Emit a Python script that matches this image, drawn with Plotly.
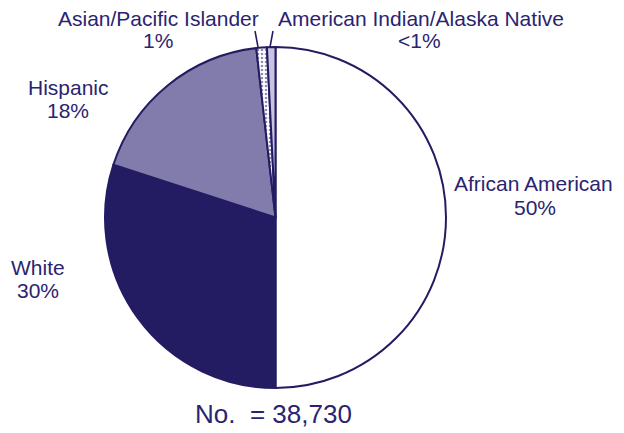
import plotly.graph_objects as go

# Data
categories = ["African American", "White", "Hispanic", "Asian/Pacific Islander", "American Indian/Alaska Native"]
values = [50.0, 30.0, 18.2, 1.0, 0.8]
pct_labels = ["50%", "30%", "18%", "1%", "<1%"]
total_label = "No.\u00a0 = 38,730"

NAVY = "#241c63"
TEXT = "#2a2470"
colors = ["#ffffff", NAVY, "#817cab", "#ffffff", "#c6c4e0"]
shapes_pat = ["", "", "", ".", ""]

# page body has an 8px margin; figure sized to fill the rest of the window
OFF = 8
W, H = 624 - OFF, 433 - OFF
cx, cy, r = 275.5 - OFF, 217.5 - OFF, 170.5

fig = go.Figure(go.Pie(
    labels=categories,
    values=values,
    sort=False,
    direction="clockwise",
    rotation=0,
    textinfo="none",
    hoverinfo="label+percent",
    marker=dict(colors=colors, line=dict(color=NAVY, width=2),
                pattern=dict(shape=shapes_pat, fgcolor=NAVY, bgcolor="#ffffff",
                             size=4, solidity=0.35, fillmode="overlay")),
    domain=dict(x=[(cx - r) / W, (cx + r) / W], y=[(H - cy - r) / H, (H - cy + r) / H]),
    showlegend=False,
))

def px(x):
    return (x - OFF) / W

def py(y):
    return 1 - (y - OFF) / H

# label positions (reference pixel centers): (name_x, name_y, pct_x, pct_y)
label_pos = [
    (533, 184, 535, 207),
    (38, 267, 38, 290),
    (68, 87, 68, 110),
    (158, 19, 158, 41),
    (421, 19, 419, 41),
]
FONT = "Liberation Sans, Arial"
annotations = []
for cat, pct, (nx, ny, qx, qy) in zip(categories, pct_labels, label_pos):
    annotations.append(dict(x=px(nx), y=py(ny), xref="paper", yref="paper", text=cat,
                            showarrow=False, xanchor="center", yanchor="middle",
                            font=dict(family=FONT, size=21, color=TEXT)))
    annotations.append(dict(x=px(qx), y=py(qy), xref="paper", yref="paper", text=pct,
                            showarrow=False, xanchor="center", yanchor="middle",
                            font=dict(family=FONT, size=21, color=TEXT)))
annotations.append(dict(x=px(273), y=py(414), xref="paper", yref="paper", text=total_label,
                        showarrow=False, xanchor="center", yanchor="middle",
                        font=dict(family=FONT, size=26, color=TEXT)))

shapes = [
    dict(type="line", xref="paper", yref="paper", x0=px(255), y0=py(31), x1=px(258), y1=py(47),
         line=dict(color=NAVY, width=1.5)),
    dict(type="line", xref="paper", yref="paper", x0=px(273), y0=py(31), x1=px(270), y1=py(47),
         line=dict(color=NAVY, width=1.5)),
]

fig.update_layout(
    width=W, height=H,
    margin=dict(l=0, r=0, t=0, b=0),
    paper_bgcolor="white", plot_bgcolor="white",
    annotations=annotations,
    shapes=shapes,
)

fig.write_html("out.html")
